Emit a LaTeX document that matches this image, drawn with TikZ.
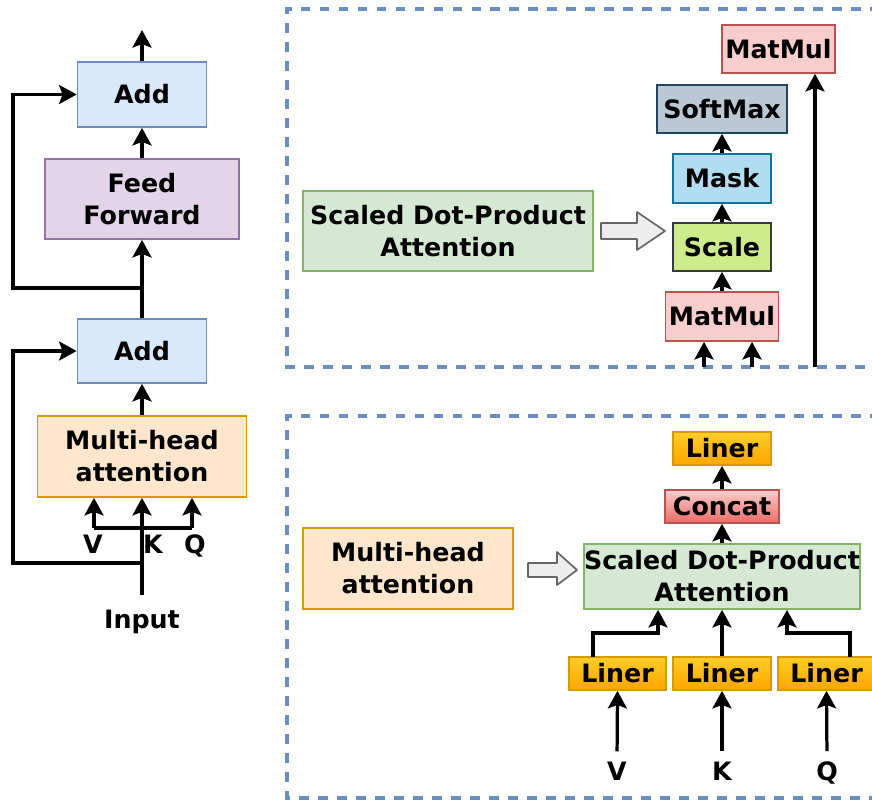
\documentclass[tikz,border=0pt]{standalone}
\usepackage{fontspec}
\setmainfont{DejaVu Sans}
\usetikzlibrary{arrows.meta,positioning}

\definecolor{addF}{HTML}{DAE8FC}\definecolor{addD}{HTML}{6C8EBF}
\definecolor{ffF}{HTML}{E1D5E7}\definecolor{ffD}{HTML}{9673A6}
\definecolor{mhaF}{HTML}{FFE6CC}\definecolor{mhaD}{HTML}{D79B00}
\definecolor{sdpF}{HTML}{D5E8D4}\definecolor{sdpD}{HTML}{82B366}
\definecolor{mmF}{HTML}{F8CECC}\definecolor{mmD}{HTML}{B85450}
\definecolor{scF}{HTML}{CDEB8B}\definecolor{scD}{HTML}{36393D}
\definecolor{mkF}{HTML}{B1DDF0}\definecolor{mkD}{HTML}{10739E}
\definecolor{smF}{HTML}{BAC8D3}\definecolor{smD}{HTML}{23445D}
\definecolor{linT}{HTML}{FFCD28}\definecolor{linB}{HTML}{FFA500}
\definecolor{catB}{HTML}{EA6B66}

\begin{document}
\begin{tikzpicture}[x=0.025cm,y=-0.025cm,
    font=\fontsize{18}{22.7}\selectfont\bfseries,
    blk/.style={draw,line width=1.2pt,align=center,inner sep=0pt},
    sz/.style 2 args={minimum width=#1*0.025cm,minimum height=#2*0.025cm},
    liner/.style={blk,sz={98}{33},top color=linT,bottom color=linB,draw=mhaD},
    lbl/.style={inner sep=0pt,anchor=base},
    wire/.style={line width=2.3pt},
    link/.style={wire,-{Stealth[length=12.5pt,width=13.5pt,inset=2.5pt]}},
    frame/.style={addD,line width=2.4pt,dash pattern=on 7pt off 6.5pt},
    fat/.style={draw=black!60,fill=black!7,line width=1.2pt,line join=round}]
  \useasboundingbox (0,0) rectangle (872,801);
  \clip (0,0) rectangle (872,801);

  % ---- Encoder layer (left) ----
  \node[blk,sz={129}{65},fill=addF,draw=addD] (add1) at (142,94.5) {Add};
  \node[blk,sz={194}{80},fill=ffF,draw=ffD] (ff) at (142,199) {Feed\\Forward};
  \node[blk,sz={129}{64},fill=addF,draw=addD] (add2) at (142,351) {Add};
  \node[blk,sz={209}{81},fill=mhaF,draw=mhaD] (mha) at (142,456.5) {Multi-head\\attention};
  \node[lbl] (inp) at (142,628) {Input};
  \node[lbl] (v0) at (93,553) {V};
  \node[lbl] (k0) at (153,553) {K};
  \node[lbl] (q0) at (195,553) {Q};

  \coordinate (out) at (142,30);
  \coordinate (j1) at (142,288);
  \coordinate (s1) at (13,288);
  \coordinate (j2) at (142,563);
  \coordinate (s2) at (13,563);
  \coordinate (fv) at (94,528);
  \coordinate (fq) at (192,528);

  \draw[link] (add1.north) -- (out);
  \draw[link] (ff.north) -- (add1.south);
  \draw[link] (add2.north) -- (ff.south);
  \draw[link] (j1) -- (s1) |- (add1.west);
  \draw[link] (mha.north) -- (add2.south);
  \draw[link,shorten <=10.5pt] (inp.north) -- (mha.south);
  \draw[link] (j2) -- (s2) |- (add2.west);
  \draw[wire] (fv) -- (fq);
  \draw[link] (fv) -- (fv |- mha.south);
  \draw[link] (fq) -- (fq |- mha.south);

  % ---- Scaled dot-product attention (top right) ----
  \draw[frame] (880,9) -- (287,9) -- (287,367) -- (880,367);
  \node[blk,sz={290}{80},fill=sdpF,draw=sdpD] (sdpa) at (448,231) {Scaled Dot-Product\\Attention};
  \draw[fat] (601,223) -- (637,223) -- (637,212) -- (665,231) -- (637,250) -- (637,239) -- (601,239) -- cycle;
  \node[blk,sz={113}{49},fill=mmF,draw=mmD] (mmB) at (722,316.5) {MatMul};
  \node[blk,sz={98}{48},fill=scF,draw=scD] (scale) at (722,247) {Scale};
  \node[blk,sz={98}{49},fill=mkF,draw=mkD] (mask) at (722,178.5) {Mask};
  \node[blk,sz={130}{48},fill=smF,draw=smD] (soft) at (722,109) {SoftMax};
  \node[blk,sz={113}{48},fill=mmF,draw=mmD] (mmT) at (778.5,49) {MatMul};

  \coordinate (qin) at (704,367);
  \coordinate (kin) at (752,367);
  \coordinate (vin) at (815,367);
  \draw[link] (mmB.north) -- (scale.south);
  \draw[link] (scale.north) -- (mask.south);
  \draw[link] (mask.north) -- (soft.south);
  \draw[link] (qin) -- (qin |- mmB.south);
  \draw[link] (kin) -- (kin |- mmB.south);
  \draw[link] (vin) -- (vin |- mmT.south);

  % ---- Multi-head attention (bottom right) ----
  \draw[frame] (880,416) -- (287,416) -- (287,798) -- (880,798);
  \node[blk,sz={210}{81},fill=mhaF,draw=mhaD] (mha2) at (408,568.5) {Multi-head\\attention};
  \draw[fat] (528,563) -- (557,563) -- (557,552) -- (577,570) -- (557,585) -- (557,577) -- (528,577) -- cycle;
  \node[blk,sz={274}{65},fill=sdpF,draw=sdpD] (sdpa2) at (722,576.5) {Scaled Dot-Product\\Attention};
  \node[blk,sz={114}{33},top color=mmF,bottom color=catB,draw=mmD] (cat) at (722,506.5) {Concat};
  \node[liner] (linO) at (722,448.5) {Liner};
  \node[liner,sz={97}{33}] (linV) at (617.5,673.5) {Liner};
  \node[liner] (linK) at (722,673.5) {Liner};
  \node[liner,sz={97}{33}] (linQ) at (826.5,673.5) {Liner};
  \node[lbl] (v1) at (617,780) {V};
  \node[lbl] (k1) at (722,780) {K};
  \node[lbl] (q1) at (827,780) {Q};

  \coordinate (tv) at (593,657);
  \coordinate (av) at (658,633);
  \coordinate (tq) at (850,657);
  \coordinate (aq) at (787,633);
  \draw[link] (sdpa2.north) -- (cat.south);
  \draw[link] (cat.north) -- (linO.south);
  \draw[link] (tv) |- (av) -- (av |- sdpa2.south);
  \draw[link] (linK.north) -- (sdpa2.south);
  \draw[link] (tq) |- (aq) -- (aq |- sdpa2.south);
  \draw[link,shorten <=7pt] (v1.north) -- (linV.south);
  \draw[link,shorten <=7pt] (k1.north) -- (linK.south);
  \draw[link,shorten <=7pt] (q1.north) -- (linQ.south);
\end{tikzpicture}
\end{document}
